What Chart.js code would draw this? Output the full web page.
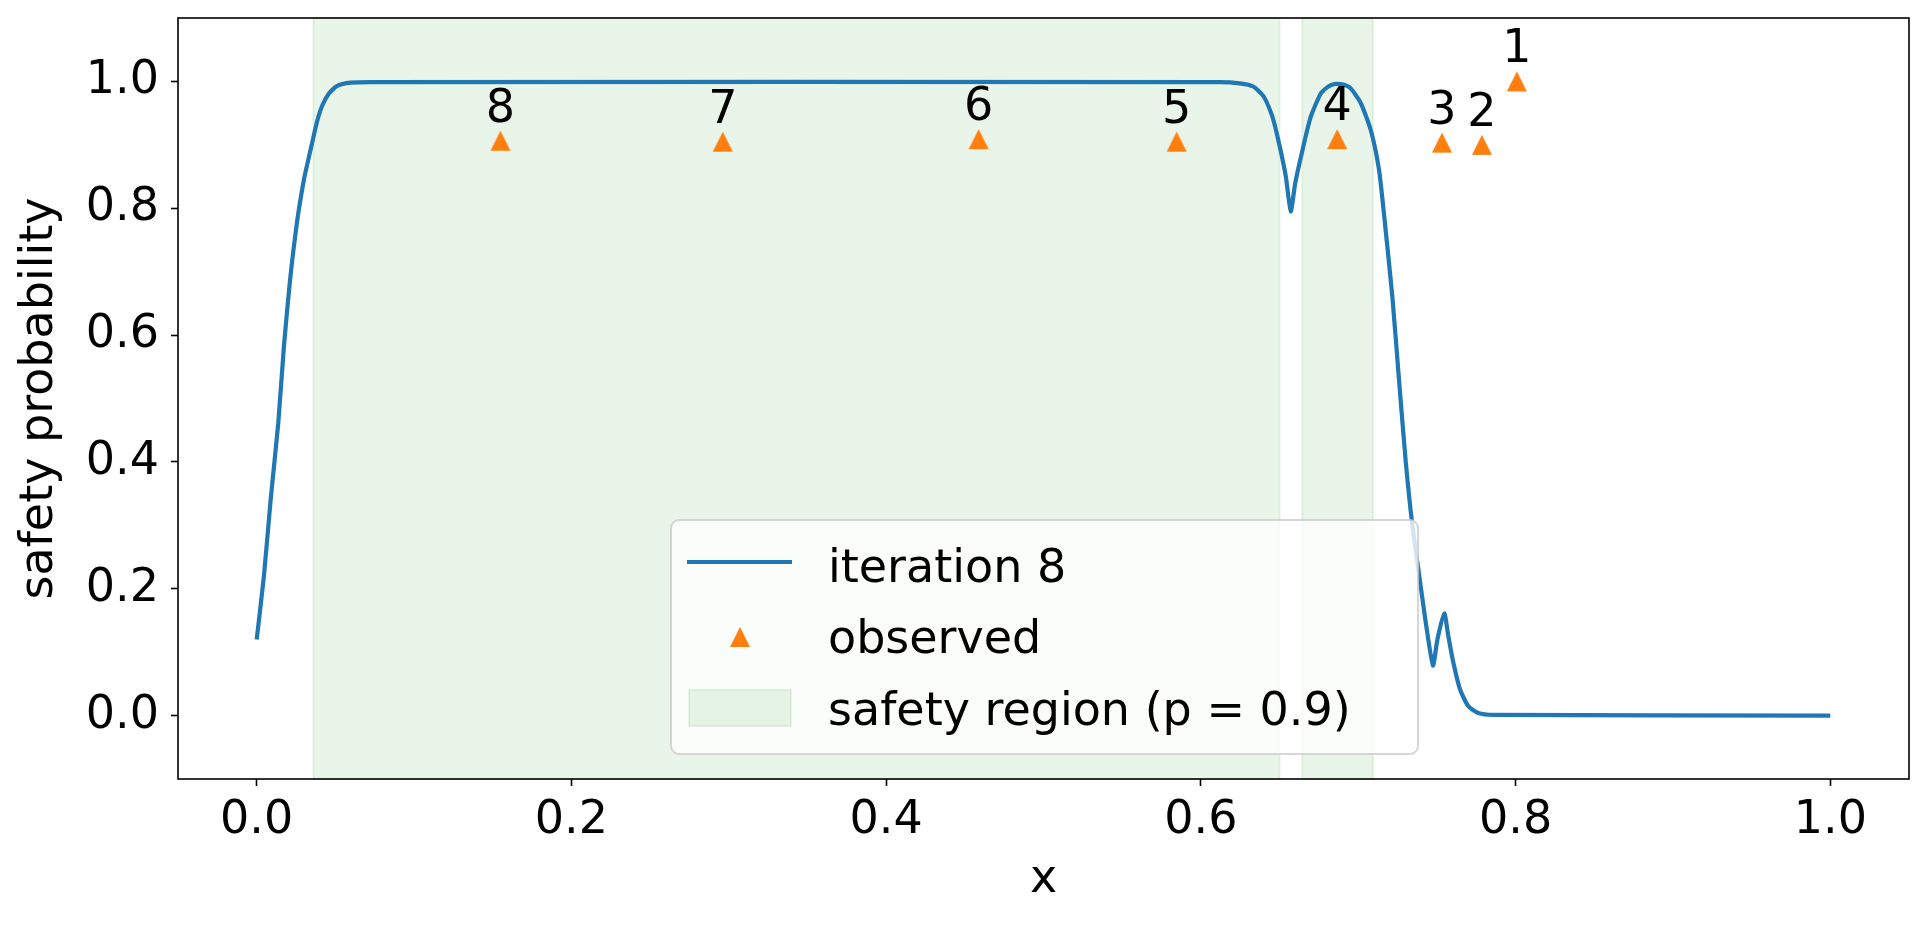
<!DOCTYPE html>
<html>
<head>
<meta charset="utf-8">
<script src="https://cdn.jsdelivr.net/npm/chart.js@4.4.0/dist/chart.umd.min.js"></script>
<style>
    body { margin: 0; background: #ffffff; }
    #caixa { width: 1930px; height: 927px; }
</style>
</head>
<body>
<div id="caixa"><canvas id="chartJS"></canvas></div>
<script>

// DADOS - curva "iteration 8"
const curvaX = [0, 0.0046, 0.0089, 0.0137, 0.0173, 0.0211, 0.0258, 0.0300, 0.0322, 0.0354, 0.0385,
    0.0417, 0.0459, 0.0512, 0.0597, 0.0724, 0.6120, 0.6248, 0.6333, 0.6400, 0.6455, 0.6497, 0.6540,
    0.6571, 0.6600, 0.6646, 0.6698, 0.6762, 0.6810, 0.6857, 0.6905, 0.6952, 0.7016, 0.7080, 0.7132,
    0.7164, 0.7217, 0.7259, 0.7302, 0.7344, 0.7397, 0.7429, 0.7475, 0.7503, 0.7547, 0.7572, 0.7604,
    0.7646, 0.7699, 0.7763, 0.7859, 1.0]
const curvaY = [0.120, 0.220, 0.341, 0.461, 0.582, 0.684, 0.781, 0.845, 0.870, 0.905, 0.938,
    0.962, 0.981, 0.993, 0.998, 0.999, 0.999, 0.997, 0.992, 0.976, 0.944, 0.902, 0.850,
    0.795, 0.840, 0.892, 0.944, 0.981, 0.992, 0.996, 0.995, 0.989, 0.966, 0.923, 0.861,
    0.790, 0.660, 0.530, 0.400, 0.300, 0.204, 0.147, 0.079, 0.120, 0.161, 0.126, 0.084,
    0.042, 0.015, 0.004, 0.001, 0.0]

// pontos observados
const obsX = [0.8008, 0.7786, 0.7532, 0.6866, 0.5846, 0.4588, 0.2962, 0.1549]
const obsY = [1.0, 0.900, 0.9035, 0.909, 0.905, 0.909, 0.905, 0.9065]
const obsRotulos = ['1', '2', '3', '4', '5', '6', '7', '8']

// regiao segura (p = 0.9)
const regiaoInicio = [0.036, 0.6644]
const regiaoFim = [0.650, 0.7094]

const ticksX = [0, 0.2, 0.4, 0.6, 0.8, 1.0]
const ticksY = [0, 0.2, 0.4, 0.6, 0.8, 1.0]

const AZUL = '#1f77b4'
const LARANJA = '#ff7f0e'
const VERDE = 'rgba(44, 160, 44, 0.1)'
const FONTE = 'DejaVu Sans'

Chart.defaults.font.family = FONTE
Chart.defaults.color = '#000'

// triangulo estilo matplotlib
const triangulo = document.createElement('canvas')
triangulo.width = 22
triangulo.height = 22
const tctx = triangulo.getContext('2d')
tctx.fillStyle = LARANJA
tctx.beginPath()
tctx.moveTo(11, 1)
tctx.lineTo(21, 21)
tctx.lineTo(1, 21)
tctx.closePath()
tctx.fill()

const regioes = {
    id: 'regioes',
    beforeDatasetsDraw(chart) {
        const { ctx, chartArea, scales } = chart
        ctx.save()
        ctx.fillStyle = VERDE
        ctx.strokeStyle = VERDE
        ctx.lineWidth = 2
        for (let i = 0; i < regiaoInicio.length; i++) {
            const x0 = scales.x.getPixelForValue(regiaoInicio[i])
            const x1 = scales.x.getPixelForValue(regiaoFim[i])
            ctx.fillRect(x0, chartArea.top, x1 - x0, chartArea.bottom - chartArea.top)
            ctx.strokeRect(x0, chartArea.top, x1 - x0, chartArea.bottom - chartArea.top)
        }
        ctx.restore()
    }
}

const moldura = {
    id: 'moldura',
    afterDatasetsDraw(chart) {
        const { ctx, chartArea, scales } = chart
        ctx.save()
        // numeros acima dos pontos
        ctx.fillStyle = '#000'
        ctx.font = '46px "' + FONTE + '"'
        ctx.textAlign = 'center'
        ctx.textBaseline = 'alphabetic'
        for (let i = 0; i < obsX.length; i++) {
            const px = scales.x.getPixelForValue(obsX[i])
            const py = scales.y.getPixelForValue(obsY[i])
            ctx.fillText(obsRotulos[i], px, py - 19)
        }
        // bordas do grafico
        ctx.strokeStyle = '#000'
        ctx.lineWidth = 1.6
        ctx.strokeRect(chartArea.left, chartArea.top, chartArea.right - chartArea.left, chartArea.bottom - chartArea.top)
        ctx.restore()
    }
}

const legenda = {
    id: 'legenda',
    afterDraw(chart) {
        const ctx = chart.ctx
        const L = 671, T = 520, W = 747, H = 234
        ctx.save()
        ctx.beginPath()
        ctx.roundRect(L, T, W, H, 8)
        ctx.fillStyle = 'rgba(255,255,255,0.8)'
        ctx.fill()
        ctx.strokeStyle = 'rgba(204,204,204,0.8)'
        ctx.lineWidth = 2
        ctx.stroke()

        ctx.strokeStyle = AZUL
        ctx.lineWidth = 4.2
        ctx.beginPath()
        ctx.moveTo(687, 562)
        ctx.lineTo(792, 562)
        ctx.stroke()

        ctx.drawImage(triangulo, 740 - 11, 637 - 11)

        ctx.fillStyle = VERDE
        ctx.strokeStyle = VERDE
        ctx.lineWidth = 2
        ctx.fillRect(689, 690, 102, 36)
        ctx.strokeRect(689, 690, 102, 36)

        ctx.fillStyle = '#000'
        ctx.font = '46px "' + FONTE + '"'
        ctx.textAlign = 'left'
        ctx.textBaseline = 'alphabetic'
        ctx.fillText('iteration 8', 828, 582)
        ctx.fillText('observed', 828, 653)
        ctx.fillText('safety region (p = 0.9)', 828, 725)
        ctx.restore()
    }
}

const meuchart = document.getElementById('chartJS')

const data = {
    datasets: [
        {
            label: 'iteration 8',
            data: curvaX.map((v, i) => ({ x: v, y: curvaY[i] })),
            showLine: true,
            borderColor: AZUL,
            borderWidth: 4.2,
            pointRadius: 0,
            tension: 0.2,
        },
        {
            label: 'observed',
            data: obsX.map((v, i) => ({ x: v, y: obsY[i] })),
            showLine: false,
            pointStyle: triangulo,
            pointRadius: 11,
            backgroundColor: LARANJA,
            borderColor: LARANJA,
        },
    ]
}

const config = {
    type: 'scatter',
    data: data,
    options: {
        responsive: true,
        maintainAspectRatio: false,
        animation: false,
        events: [],
        layout: {
            padding: { left: 0, right: 21, top: 18, bottom: 0 }
        },
        plugins: {
            legend: { display: false },
            tooltip: { enabled: false },
        },
        scales: {
            x: {
                type: 'linear',
                min: -0.05,
                max: 1.05,
                afterBuildTicks: (s) => { s.ticks = ticksX.map(v => ({ value: v })) },
                afterFit: (s) => { s.height = 148; s.paddingLeft = 0; s.paddingRight = 0 },
                grid: {
                    drawOnChartArea: false,
                    tickLength: 7,
                    tickWidth: 1.6,
                    tickColor: '#000',
                },
                border: { display: false },
                ticks: {
                    color: '#000',
                    padding: 7,
                    maxRotation: 0,
                    autoSkip: false,
                    font: { size: 46 },
                    callback: (v) => v.toFixed(1),
                },
                title: {
                    display: true,
                    text: 'x',
                    color: '#000',
                    font: { size: 46 },
                    padding: { top: 0, bottom: 19 },
                },
            },
            y: {
                type: 'linear',
                min: -0.1,
                max: 1.1,
                afterBuildTicks: (s) => { s.ticks = ticksY.map(v => ({ value: v })) },
                afterFit: (s) => { s.width = 178; s.paddingTop = 0; s.paddingBottom = 0 },
                grid: {
                    drawOnChartArea: false,
                    tickLength: 7,
                    tickWidth: 1.6,
                    tickColor: '#000',
                },
                border: { display: false },
                ticks: {
                    color: '#000',
                    padding: 12,
                    font: { size: 46 },
                    callback: (v) => v.toFixed(1),
                },
                title: {
                    display: true,
                    text: 'safety probability',
                    color: '#000',
                    font: { size: 46 },
                    padding: { top: 12, bottom: 0 },
                },
            },
        },
    },
    plugins: [regioes, moldura, legenda],
}

const chart = new Chart(meuchart, config)
</script>
</body>
</html>
